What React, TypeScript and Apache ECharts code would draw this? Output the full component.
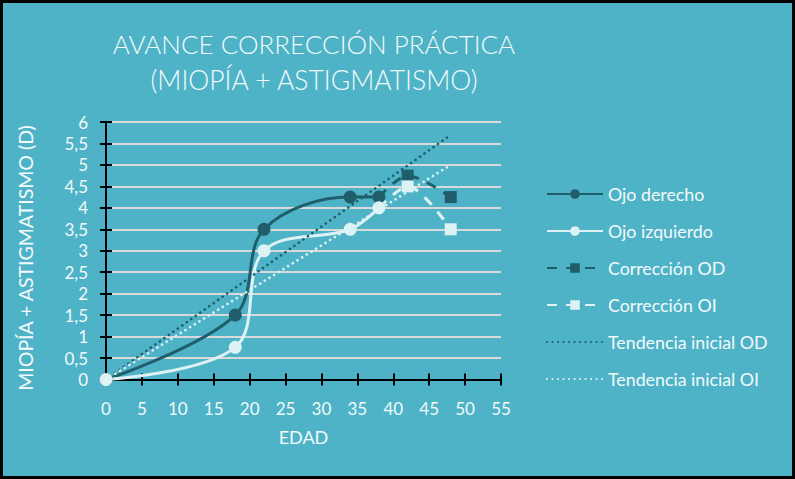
import React, { useEffect, useRef } from "react";
import * as echarts from "echarts";

const ojoDerecho: [number, number][] = [[0, 0], [18, 1.5], [22, 3.5], [34, 4.25], [38, 4.25]];
const ojoIzquierdo: [number, number][] = [[0, 0], [18, 0.75], [22, 3], [34, 3.5], [38, 4]];
const correccionOD: [number, number][] = [[38, 4.25], [42, 4.75], [48, 4.25]];
const correccionOI: [number, number][] = [[38, 4], [42, 4.5], [48, 3.5]];
const tendenciaOD: [number, number][] = [[0, 0], [48, 5.7]];
const tendenciaOI: [number, number][] = [[0, 0], [48, 5.0]];
const seriesNames = ["Ojo derecho", "Ojo izquierdo", "Corrección OD", "Corrección OI", "Tendencia inicial OD", "Tendencia inicial OI"];
const titleLines = ["AVANCE CORRECCIÓN PRÁCTICA", "(MIOPÍA + ASTIGMATISMO)"];
const yAxisTitle = "MIOPÍA + ASTIGMATISMO (D)";
const xAxisTitle = "EDAD";

const DARK = "#1F5E6A";
const LIGHT = "#DDF2F5";
const BG = "#4FB3C7";
const GRID = "#D9D9D9";
const TEXT = "#F2FAFB";
const FONT = "Lato";

const corrData = (arr: [number, number][]) =>
  arr.map((p, i) => (i === 0 ? { value: p, symbol: "none" } : { value: p }));

export default function App() {
  const ref = useRef<HTMLDivElement>(null);
  useEffect(() => {
    if (!ref.current) return;
    const chart = echarts.init(ref.current, null, { renderer: "svg" });
    const gridPos = { left: 103, right: 291, top: 119, bottom: 96.5 };
    const axisLine = { show: true, lineStyle: { color: "#000", width: 2 } };
    const dotted = [0.1, 5.4];
    chart.setOption({
      animation: false,
      backgroundColor: BG,
      textStyle: { fontFamily: FONT },
      grid: gridPos,
      graphic: [
        { type: "text", x: 311, y: 41, style: { text: titleLines[0], align: "center", verticalAlign: "middle", fill: TEXT, font: `300 26px ${FONT}` } },
        { type: "text", x: 311, y: 77, style: { text: titleLines[1], align: "center", verticalAlign: "middle", fill: TEXT, font: `300 26.5px ${FONT}` } },
        { type: "text", x: 22, y: 255, rotation: Math.PI / 2, style: { text: yAxisTitle, align: "center", verticalAlign: "middle", fill: TEXT, font: `19.5px ${FONT}` } },
      ],
      legend: {
        orient: "vertical",
        left: 543,
        top: 182,
        padding: 0,
        itemWidth: 56,
        itemHeight: 12,
        itemGap: 19,
        data: seriesNames.map((n, i) => (i >= 4 ? { name: n, itemStyle: { opacity: 0 } } : { name: n })),
        textStyle: { color: TEXT, fontSize: 17.8, fontFamily: FONT },
      },
      xAxis: [
        {
          type: "value", min: 0, max: 55, interval: 5,
          axisLine, splitLine: { show: false },
          axisTick: { show: true, length: 6, lineStyle: { color: "#000", width: 2 } },
          axisLabel: { color: TEXT, fontSize: 17, margin: 20, fontFamily: FONT },
          name: xAxisTitle, nameLocation: "middle", nameGap: 48,
          nameTextStyle: { color: TEXT, fontSize: 18, fontFamily: FONT },
        },
        {
          type: "value", min: 0, max: 55, interval: 5, position: "bottom",
          axisLine, splitLine: { show: false },
          axisTick: { show: true, inside: true, length: 6, lineStyle: { color: "#000", width: 2 } },
          axisLabel: { show: false },
        },
      ],
      yAxis: [
        {
          type: "value", min: 0, max: 6, interval: 0.5,
          axisLine,
          splitLine: { show: true, lineStyle: { color: GRID, width: 2 } },
          axisTick: { show: true, length: 6, lineStyle: { color: "#000", width: 2 } },
          axisLabel: { color: TEXT, fontSize: 17, margin: 18, fontFamily: FONT, formatter: (v: number) => String(v).replace(".", ",") },
        },
        {
          type: "value", min: 0, max: 6, interval: 0.5, position: "left",
          axisLine, splitLine: { show: false },
          axisTick: { show: true, inside: true, length: 6, lineStyle: { color: "#000", width: 2 } },
          axisLabel: { show: false },
        },
      ],
      series: [
        {
          name: seriesNames[0], type: "line", data: ojoDerecho, smooth: 0.35,
          symbol: "circle", symbolSize: 13,
          lineStyle: { color: DARK, width: 3 }, itemStyle: { color: DARK },
        },
        {
          name: seriesNames[1], type: "line", data: ojoIzquierdo, smooth: 0.35,
          symbol: "circle", symbolSize: 13,
          lineStyle: { color: LIGHT, width: 3 }, itemStyle: { color: LIGHT },
        },
        {
          name: seriesNames[2], type: "line", data: corrData(correccionOD), smooth: 0.3,
          symbol: "rect", symbolSize: 12,
          lineStyle: { color: DARK, width: 3, type: [10, 9] }, itemStyle: { color: DARK },
        },
        {
          name: seriesNames[3], type: "line", data: corrData(correccionOI), smooth: 0.3,
          symbol: "rect", symbolSize: 12,
          lineStyle: { color: LIGHT, width: 3, type: [10, 9] }, itemStyle: { color: LIGHT },
        },
        {
          name: seriesNames[4], type: "line", data: tendenciaOD, symbol: "none",
          lineStyle: { color: DARK, width: 2.6, type: dotted, cap: "round" }, itemStyle: { color: DARK },
        },
        {
          name: seriesNames[5], type: "line", data: tendenciaOI, symbol: "none",
          lineStyle: { color: LIGHT, width: 2.6, type: dotted, cap: "round" }, itemStyle: { color: LIGHT },
        },
      ],
    });
    return () => chart.dispose();
  }, []);
  return (
    <div style={{ position: "fixed", left: 0, top: 0, width: 795, height: 479, boxSizing: "border-box", border: "3px solid #000", background: BG }}>
      <div ref={ref} style={{ width: 789, height: 473 }} />
    </div>
  );
}
